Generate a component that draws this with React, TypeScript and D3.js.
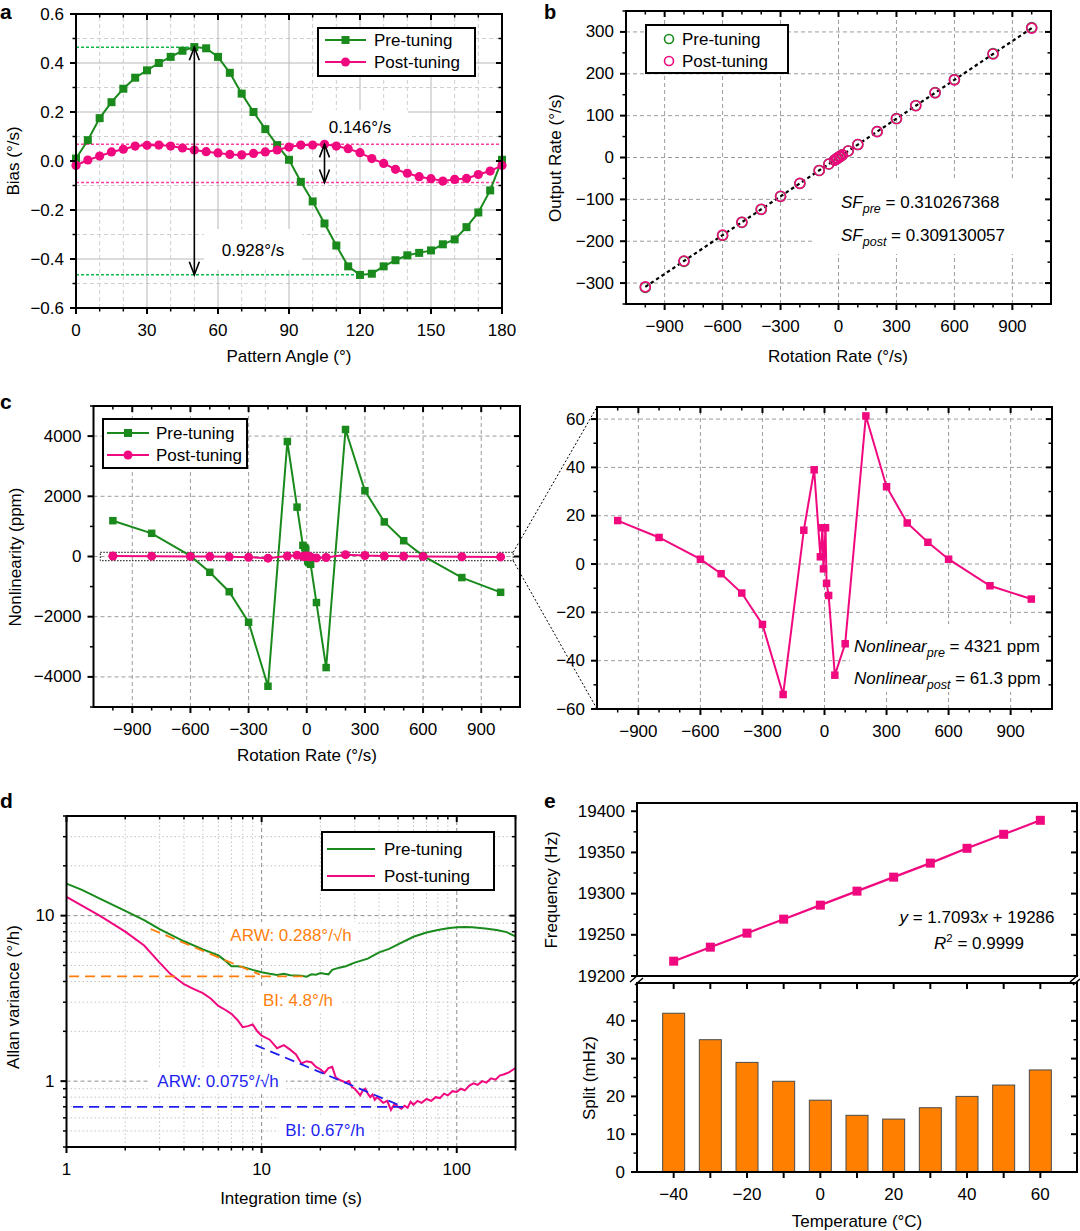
import * as React from 'react'
import * as d3 from 'd3'

const FONT = '"Liberation Sans", Arial, Helvetica, sans-serif'
const GREEN = '#1a8a1c'
const PINK = '#f0087f'
const ORANGE = '#ff7f0e'
const BLUE = '#1f1ff0'

// ---- a: bias vs pattern angle
const angles = [0, 5, 10, 15, 20, 25, 30, 35, 40, 45, 50, 55, 60, 65, 70, 75, 80, 85, 90, 95, 100, 105, 110, 115, 120, 125, 130, 135, 140, 145, 150, 155, 160, 165, 170, 175, 180]
const biasPre = [0.01, 0.085, 0.175, 0.24, 0.295, 0.34, 0.37, 0.4, 0.425, 0.45, 0.465, 0.46, 0.425, 0.36, 0.275, 0.2, 0.13, 0.065, 0.005, -0.085, -0.165, -0.255, -0.345, -0.43, -0.465, -0.46, -0.43, -0.405, -0.385, -0.375, -0.365, -0.34, -0.32, -0.27, -0.21, -0.12, 0.005]
const biasPost = [-0.018, 0.004, 0.02, 0.037, 0.048, 0.061, 0.064, 0.065, 0.061, 0.053, 0.045, 0.038, 0.033, 0.027, 0.025, 0.031, 0.037, 0.045, 0.057, 0.065, 0.065, 0.068, 0.061, 0.05, 0.034, 0.01, -0.01, -0.034, -0.05, -0.064, -0.072, -0.082, -0.075, -0.071, -0.055, -0.041, -0.018]

// ---- b, c: rotation rate tests
const rates = [-1000, -800, -600, -500, -400, -300, -200, -100, -50, -20, -10, -5, 5, 10, 20, 50, 100, 200, 300, 400, 500, 600, 800, 1000]
const outPre = [-310.3, -248.2, -186.2, -155.1, -124.1, -93.1, -62.1, -31.0, -15.5, -6.2, -3.1, -1.6, 1.6, 3.1, 6.2, 15.5, 31.0, 62.1, 93.1, 124.1, 155.1, 186.2, 248.2, 310.3]
const outPost = [-309.1, -247.3, -185.5, -154.6, -123.7, -92.7, -61.8, -30.9, -15.5, -6.2, -3.1, -1.5, 1.5, 3.1, 6.2, 15.5, 30.9, 61.8, 92.7, 123.7, 154.6, 185.5, 247.3, 309.1]
const nonlinPre = [1190, 770, 20, -525, -1170, -2185, -4310, 3820, 1640, 370, 300, 240, -150, -200, -260, -1530, -3690, 4220, 2185, 1150, 525, 20, -700, -1190]
const nonlinPost = [18, 11, 2, -4, -12, -25, -54, 14, 39, 3, 15, -2, 15, -8, -13, -46, -33, 61.3, 32, 17, 9, 2, -9, -14.5]

// ---- d: Allan deviation
const tauPre = [1, 1.2, 1.5, 2, 2.5, 3, 4, 5, 6, 6.5, 7, 7.5, 8, 9, 10, 11, 12, 13, 14, 15, 16, 17, 18, 19, 20, 21, 22, 23, 25, 27, 30, 35, 40, 45, 50, 60, 70, 80, 90, 100, 110, 120, 140, 160, 180, 200]
const allanPre = [15.6, 14.3, 12.6, 10.7, 9.4, 8.3, 7.0, 6.25, 5.75, 5.35, 4.95, 4.95, 4.9, 4.7, 4.55, 4.45, 4.38, 4.45, 4.36, 4.35, 4.33, 4.28, 4.42, 4.4, 4.5, 4.45, 4.42, 4.7, 4.85, 4.95, 5.2, 5.5, 6.0, 6.3, 6.7, 7.45, 7.9, 8.2, 8.4, 8.5, 8.55, 8.5, 8.35, 8.2, 7.95, 7.5]
const tauPost = [1, 1.2, 1.5, 2, 2.5, 3, 3.4, 4, 4.5, 5, 5.5, 6, 6.5, 7, 7.5, 8, 8.5, 9, 9.5, 10, 11, 12, 13, 14, 15, 16, 17, 18, 19, 20, 21, 22, 23, 24, 25, 26, 27, 28, 29, 30, 31, 32, 33, 34, 35, 36, 37, 38, 39, 40, 42, 44, 46, 48, 50, 52, 54, 56, 58, 60, 63, 66, 70, 74, 78, 82, 86, 90, 95, 100, 105, 110, 116, 122, 128, 135, 142, 150, 158, 166, 175, 185, 200]
const allanPost = [13.0, 11.5, 9.9, 8.0, 6.6, 5.2, 4.45, 3.85, 3.6, 3.4, 3.15, 2.85, 2.7, 2.55, 2.35, 2.12, 2.15, 2.2, 2.0, 1.88, 1.78, 1.58, 1.65, 1.55, 1.45, 1.28, 1.32, 1.3, 1.22, 1.18, 1.12, 1.2, 1.22, 1.05, 1.02, 1.0, 0.98, 1.0, 0.92, 0.9, 0.86, 0.82, 0.88, 0.9, 0.84, 0.8, 0.83, 0.77, 0.8, 0.78, 0.74, 0.76, 0.67, 0.73, 0.7, 0.68, 0.71, 0.69, 0.75, 0.72, 0.76, 0.74, 0.78, 0.76, 0.8, 0.79, 0.84, 0.82, 0.87, 0.86, 0.9, 0.88, 0.94, 0.97, 0.95, 1.0, 0.98, 1.04, 1.02, 1.08, 1.1, 1.13, 1.2]
const arwPreFit = [[2.7, 8.3], [9.8, 4.4]]
const biPreFit = [[1.03, 4.3], [17.5, 4.3]]
const arwPostFit = [[9.3, 1.65], [53, 0.7]]
const biPostFit = [[1.08, 0.7], [53, 0.7]]

// ---- e: temperature
const temps = [-40, -30, -20, -10, 0, 10, 20, 30, 40, 50, 60]
const freq = [19218, 19235, 19252, 19269, 19286, 19303, 19320, 19337, 19355, 19372, 19389]
const split = [42, 35, 29, 24, 19, 15, 14, 17, 20, 23, 27]

const range = (a: number, b: number, s: number) => d3.range(a, b + s / 2, s)
const minors = (all: number[], major: number[]) => all.filter(v => !major.some(m => Math.abs(m - v) < 1e-9))

interface FrameProps {
  x: any; y: any
  xMajor: number[]; xMinor: number[]; yMajor: number[]; yMinor: number[]
  xLabels?: number[]; yLabels?: number[]
  xFmt?: (v: number) => string; yFmt?: (v: number) => string
  top?: boolean
}

function Frame(p: FrameProps) {
  const [xa, xb] = p.x.range()
  const [yb, ya] = p.y.range()
  const L = 6, l = 3.5
  const out: React.ReactElement[] = []
  const add = (k: string, x1: number, y1: number, x2: number, y2: number, w: number) =>
    out.push(<line key={k} x1={x1} y1={y1} x2={x2} y2={y2} stroke="#000" strokeWidth={w} />)
  p.xMajor.forEach(v => {
    const px = p.x(v)
    add('xb' + v, px, yb, px, yb + L, 2)
    if (p.top !== false) add('xt' + v, px, ya, px, ya + L, 2)
  })
  p.xMinor.forEach(v => {
    const px = p.x(v)
    add('xbm' + v, px, yb, px, yb + l, 1.5)
    if (p.top !== false) add('xtm' + v, px, ya, px, ya + l, 1.5)
  })
  p.yMajor.forEach(v => {
    const py = p.y(v)
    add('yl' + v, xa - L, py, xa, py, 2)
    add('yr' + v, xb - L, py, xb, py, 2)
  })
  p.yMinor.forEach(v => {
    const py = p.y(v)
    add('ylm' + v, xa - l, py, xa, py, 1.5)
    add('yrm' + v, xb - l, py, xb, py, 1.5)
  })
  const xf = p.xFmt ?? d3.format('d')
  const yf = p.yFmt ?? d3.format('d')
  return (
    <g>
      {out}
      <rect x={xa} y={ya} width={xb - xa} height={yb - ya} fill="none" stroke="#000" strokeWidth={2} />
      {(p.xLabels ?? p.xMajor).map(v => (
        <text key={'lx' + v} x={p.x(v)} y={yb + 22} textAnchor="middle" dominantBaseline="central">{xf(v)}</text>
      ))}
      {(p.yLabels ?? p.yMajor).map(v => (
        <text key={'ly' + v} x={xa - 12} y={p.y(v)} textAnchor="end" dominantBaseline="central">{yf(v)}</text>
      ))}
    </g>
  )
}

function Grid({ x, y, xs, ys, stroke, dash }: { x: any; y: any; xs: number[]; ys: number[]; stroke: string; dash?: string }) {
  const [xa, xb] = x.range()
  const [yb, ya] = y.range()
  return (
    <g stroke={stroke} strokeWidth={1} strokeDasharray={dash}>
      {xs.map(v => <line key={'gx' + v} x1={x(v)} x2={x(v)} y1={yb} y2={ya} />)}
      {ys.map(v => <line key={'gy' + v} x1={xa} x2={xb} y1={y(v)} y2={y(v)} />)}
    </g>
  )
}

const Square = ({ cx, cy, s, fill }: { cx: number; cy: number; s: number; fill: string }) => (
  <rect x={cx - s / 2} y={cy - s / 2} width={s} height={s} fill={fill} />
)

type Mk = 'square' | 'circle' | 'hollow' | 'none'
function Legend({ box, rows, lx0, lx1, tx }: { box: number[]; rows: { label: string; color: string; mk: Mk; y: number }[]; lx0?: number; lx1?: number; tx: number }) {
  const [x0, y0, x1, y1] = box
  return (
    <g>
      <rect x={x0} y={y0} width={x1 - x0} height={y1 - y0} fill="#fff" stroke="#000" strokeWidth={2} />
      {rows.map(r => {
        const mx = lx0 !== undefined && lx1 !== undefined ? (lx0 + lx1) / 2 : 0
        return (
          <g key={r.label}>
            {lx0 !== undefined && lx1 !== undefined && <line x1={lx0} x2={lx1} y1={r.y} y2={r.y} stroke={r.color} strokeWidth={2} />}
            {r.mk === 'square' && <Square cx={mx} cy={r.y} s={8} fill={r.color} />}
            {r.mk === 'circle' && <circle cx={mx} cy={r.y} r={4.5} fill={r.color} />}
            {r.mk === 'hollow' && <circle cx={tx - 13} cy={r.y} r={4.5} fill="none" stroke={r.color} strokeWidth={1.6} />}
            <text x={tx} y={r.y} dominantBaseline="central">{r.label}</text>
          </g>
        )
      })}
    </g>
  )
}

function Arrow({ x, y1, y2 }: { x: number; y1: number; y2: number }) {
  return (
    <g stroke="#000" strokeWidth={1.6} fill="none">
      <line x1={x} x2={x} y1={y1} y2={y2} />
      <polyline points={`${x - 5},${y1 + 13} ${x},${y1} ${x + 5},${y1 + 13}`} />
      <polyline points={`${x - 5},${y2 - 13} ${x},${y2} ${x + 5},${y2 - 13}`} />
    </g>
  )
}

function PanelA() {
  const x = d3.scaleLinear().domain([0, 180]).range([76, 502])
  const y = d3.scaleLinear().domain([-0.6, 0.6]).range([308, 14])
  const line = d3.line<number>().x((_, i) => x(angles[i]))
  const top = 0.464, bot = -0.464, ptop = 0.068, pbot = -0.088
  return (
    <g>
      <Grid x={x} y={y} xs={minors(range(0, 180, 10), range(0, 180, 30))} ys={minors(range(-0.5, 0.5, 0.1), range(-0.6, 0.6, 0.2))} stroke="#cfcfcf" dash="4,3" />
      <Grid x={x} y={y} xs={range(30, 150, 30)} ys={range(-0.4, 0.4, 0.2)} stroke="#b8b8b8" />
      <rect x={312} y={110} width={96} height={34} fill="#fff" />
      <rect x={204} y={229} width={98} height={41} fill="#fff" />
      <g strokeWidth={1.5} strokeDasharray="3,2">
        <line x1={x(0)} x2={x(50)} y1={y(top)} y2={y(top)} stroke="#10b84c" />
        <line x1={x(0)} x2={x(120)} y1={y(bot)} y2={y(bot)} stroke="#10b84c" />
        <line x1={x(0)} x2={x(180)} y1={y(ptop)} y2={y(ptop)} stroke="#ff3fa0" />
        <line x1={x(0)} x2={x(180)} y1={y(pbot)} y2={y(pbot)} stroke="#ff3fa0" />
      </g>
      <path d={line.y(v => y(v))(biasPre) ?? ''} fill="none" stroke={GREEN} strokeWidth={2} />
      {biasPre.map((v, i) => <Square key={'s' + i} cx={x(angles[i])} cy={y(v)} s={8} fill={GREEN} />)}
      <path d={line.y(v => y(v))(biasPost) ?? ''} fill="none" stroke={PINK} strokeWidth={2} />
      {biasPost.map((v, i) => <circle key={'c' + i} cx={x(angles[i])} cy={y(v)} r={4.6} fill={PINK} />)}
      <Arrow x={x(50)} y1={y(top)} y2={y(bot)} />
      <Arrow x={x(105)} y1={y(ptop)} y2={y(pbot)} />
      <text x={360} y={127} textAnchor="middle" dominantBaseline="central">0.146°/s</text>
      <text x={253} y={250} textAnchor="middle" dominantBaseline="central">0.928°/s</text>
      <Frame x={x} y={y} xMajor={range(0, 180, 30)} xMinor={minors(range(0, 180, 10), range(0, 180, 30))}
        yMajor={range(-0.6, 0.6, 0.2)} yMinor={minors(range(-0.6, 0.6, 0.1), range(-0.6, 0.6, 0.2))}
        yFmt={d3.format('.1f')} />
      <Legend box={[318, 28, 475, 76]} lx0={325} lx1={366} tx={374} rows={[
        { label: 'Pre-tuning', color: GREEN, mk: 'square', y: 40 },
        { label: 'Post-tuning', color: PINK, mk: 'circle', y: 62 },
      ]} />
      <text x={13} y={161} transform="rotate(-90 13 161)" textAnchor="middle" dominantBaseline="central">Bias (°/s)</text>
      <text x={289} y={356} textAnchor="middle" dominantBaseline="central">Pattern Angle (°)</text>
      <text x={0} y={19} fontWeight="bold" fontSize={21}>a</text>
    </g>
  )
}

function PanelB() {
  const x = d3.scaleLinear().domain([-1100, 1100]).range([626, 1051])
  const y = d3.scaleLinear().domain([-350, 350]).range([304, 11])
  const xMaj = range(-900, 900, 300)
  const yMaj = range(-300, 300, 100)
  const fit = d3.line<number>().x((_, i) => x(rates[i])).y(v => y(v))
  return (
    <g>
      <Grid x={x} y={y} xs={xMaj} ys={yMaj} stroke="#9c9c9c" dash="4,3" />
      <rect x={815} y={181} width={233} height={73} fill="#fff" />
      <path d={fit(outPost) ?? ''} fill="none" stroke="#000" strokeWidth={2.2} strokeDasharray="3.5,3" />
      {outPre.map((v, i) => <circle key={'g' + i} cx={x(rates[i])} cy={y(v)} r={5} fill="none" stroke={GREEN} strokeWidth={1.6} />)}
      {outPost.map((v, i) => <circle key={'p' + i} cx={x(rates[i])} cy={y(v)} r={5} fill="none" stroke={PINK} strokeWidth={1.6} />)}
      <text x={841} y={208}>
        <tspan fontStyle="italic">SF</tspan><tspan fontStyle="italic" fontSize={12.5} dy={5}>pre</tspan><tspan dy={-5}> = 0.310267368</tspan>
      </text>
      <text x={841} y={241}>
        <tspan fontStyle="italic">SF</tspan><tspan fontStyle="italic" fontSize={12.5} dy={5}>post</tspan><tspan dy={-5}> = 0.309130057</tspan>
      </text>
      <Frame x={x} y={y} xMajor={xMaj} xMinor={minors(range(-1000, 1000, 100), xMaj)}
        yMajor={yMaj} yMinor={minors(range(-350, 350, 50), yMaj)} />
      <Legend box={[646, 25, 788, 73]} tx={682} rows={[
        { label: 'Pre-tuning', color: GREEN, mk: 'hollow', y: 39 },
        { label: 'Post-tuning', color: PINK, mk: 'hollow', y: 61 },
      ]} />
      <text x={555} y={158} transform="rotate(-90 555 158)" textAnchor="middle" dominantBaseline="central">Output Rate (°/s)</text>
      <text x={838} y={356} textAnchor="middle" dominantBaseline="central">Rotation Rate (°/s)</text>
      <text x={544} y={19} fontWeight="bold" fontSize={20}>b</text>
    </g>
  )
}

function PanelC() {
  const x = d3.scaleLinear().domain([-1100, 1100]).range([93.5, 520])
  const y = d3.scaleLinear().domain([-5000, 5000]).range([707, 406])
  const x2 = d3.scaleLinear().domain([-1100, 1100]).range([597, 1052])
  const y2 = d3.scaleLinear().domain([-60, 65]).range([709, 407])
  const xMaj = range(-900, 900, 300)
  const xMin = minors(range(-1000, 1000, 100), xMaj)
  const l1 = d3.line<number>().x((_, i) => x(rates[i])).y(v => y(v))
  const l2 = d3.line<number>().x((_, i) => x2(rates[i])).y(v => y2(v))
  const bx0 = x(-1065), bx1 = x(1065), by0 = y(140), by1 = y(-140)
  return (
    <g>
      <Grid x={x} y={y} xs={xMaj} ys={range(-4000, 4000, 2000)} stroke="#9c9c9c" dash="4,3" />
      <Grid x={x2} y={y2} xs={xMaj} ys={range(-40, 60, 20)} stroke="#9c9c9c" dash="4,3" />
      <rect x={850} y={624} width={198} height={68} fill="#fff" />
      <rect x={bx0} y={by0} width={bx1 - bx0} height={by1 - by0} fill="none" stroke="#000" strokeWidth={1} strokeDasharray="1.5,1.5" />
      <g stroke="#000" strokeWidth={1} strokeDasharray="2,2">
        <line x1={bx1} y1={by0} x2={597} y2={407} />
        <line x1={bx1} y1={by1} x2={597} y2={709} />
      </g>
      <path d={l1(nonlinPre) ?? ''} fill="none" stroke={GREEN} strokeWidth={2} />
      {nonlinPre.map((v, i) => <Square key={'s' + i} cx={x(rates[i])} cy={y(v)} s={7.5} fill={GREEN} />)}
      <path d={l1(nonlinPost) ?? ''} fill="none" stroke={PINK} strokeWidth={2} />
      {nonlinPost.map((v, i) => <circle key={'c' + i} cx={x(rates[i])} cy={y(v)} r={4.5} fill={PINK} />)}
      <path d={l2(nonlinPost) ?? ''} fill="none" stroke={PINK} strokeWidth={2} />
      {nonlinPost.map((v, i) => <Square key={'q' + i} cx={x2(rates[i])} cy={y2(v)} s={7.5} fill={PINK} />)}
      <text x={854} y={652}>
        <tspan fontStyle="italic">Nonlinear</tspan><tspan fontStyle="italic" fontSize={12.5} dy={5}>pre</tspan><tspan dy={-5}> = 4321 ppm</tspan>
      </text>
      <text x={854} y={684}>
        <tspan fontStyle="italic">Nonlinear</tspan><tspan fontStyle="italic" fontSize={12.5} dy={5}>post</tspan><tspan dy={-5}> = 61.3 ppm</tspan>
      </text>
      <Frame x={x} y={y} xMajor={xMaj} xMinor={xMin} yMajor={range(-4000, 4000, 2000)} yMinor={minors(range(-5000, 5000, 1000), range(-4000, 4000, 2000))} />
      <Frame x={x2} y={y2} xMajor={xMaj} xMinor={xMin} yMajor={range(-60, 60, 20)} yMinor={minors(range(-50, 60, 10), range(-60, 60, 20))} />
      <Legend box={[103, 419, 247, 468]} lx0={107} lx1={149} tx={156} rows={[
        { label: 'Pre-tuning', color: GREEN, mk: 'square', y: 433 },
        { label: 'Post-tuning', color: PINK, mk: 'circle', y: 455 },
      ]} />
      <text x={15} y={557} transform="rotate(-90 15 557)" textAnchor="middle" dominantBaseline="central">Nonlinearity (ppm)</text>
      <text x={307} y={755} textAnchor="middle" dominantBaseline="central">Rotation Rate (°/s)</text>
      <text x={0} y={409} fontWeight="bold" fontSize={21}>c</text>
    </g>
  )
}

function PanelD() {
  const x = d3.scaleLog().domain([1, 200]).range([66.5, 515.5])
  const y = d3.scaleLog().domain([0.4, 40]).range([1147, 816])
  const xMinor = [2, 3, 4, 5, 6, 7, 8, 9, 20, 30, 40, 50, 60, 70, 80, 90, 200]
  const yMinor = [0.4, 0.5, 0.6, 0.7, 0.8, 0.9, 2, 3, 4, 5, 6, 7, 8, 9, 20, 30, 40]
  const ln = d3.line<number[]>().x(d => x(d[0])).y(d => y(d[1]))
  const pre = tauPre.map((t, i) => [t, allanPre[i]])
  const post = tauPost.map((t, i) => [t, allanPost[i]])
  const ann = (cx: number, cy: number, w: number, txt: string, c: string) => (
    <g>
      <rect x={cx - w / 2} y={cy - 13} width={w} height={26} fill="#fff" />
      <text x={cx} y={cy} textAnchor="middle" dominantBaseline="central" fill={c}>{txt}</text>
    </g>
  )
  return (
    <g>
      <Grid x={x} y={y} xs={xMinor.filter(v => v < 200)} ys={yMinor.filter(v => v > 0.4 && v < 40)} stroke="#c4c4c4" dash="1.5,2.5" />
      <Grid x={x} y={y} xs={[10, 100]} ys={[1, 10]} stroke="#8c8c8c" dash="4,3" />
      {ann(291, 935, 134, 'ARW: 0.288°/√h', ORANGE)}
      {ann(298, 1000, 84, 'BI: 4.8°/h', ORANGE)}
      {ann(218, 1081, 136, 'ARW: 0.075°/√h', BLUE)}
      {ann(325, 1130, 92, 'BI: 0.67°/h', BLUE)}
      <path d={ln(pre) ?? ''} fill="none" stroke={GREEN} strokeWidth={2} />
      <path d={ln(post) ?? ''} fill="none" stroke={PINK} strokeWidth={2} />
      <g strokeWidth={1.8} strokeDasharray="10,6" fill="none">
        <path d={ln(arwPreFit) ?? ''} stroke={ORANGE} />
        <path d={ln(biPreFit) ?? ''} stroke={ORANGE} />
        <path d={ln(arwPostFit) ?? ''} stroke={BLUE} />
        <path d={ln(biPostFit) ?? ''} stroke={BLUE} />
      </g>
      <Frame x={x} y={y} xMajor={[1, 10, 100]} xMinor={xMinor} yMajor={[1, 10]} yMinor={yMinor} />
      <Legend box={[322, 832, 494, 890]} lx0={327} lx1={375} tx={384} rows={[
        { label: 'Pre-tuning', color: GREEN, mk: 'none', y: 849 },
        { label: 'Post-tuning', color: PINK, mk: 'none', y: 876 },
      ]} />
      <text x={13} y={997} transform="rotate(-90 13 997)" textAnchor="middle" dominantBaseline="central">Allan variance (°/h)</text>
      <text x={291} y={1198} textAnchor="middle" dominantBaseline="central">Integration time (s)</text>
      <text x={0} y={808} fontWeight="bold" fontSize={21}>d</text>
    </g>
  )
}

function PanelE() {
  const x = d3.scaleLinear().domain([-50, 70]).range([637, 1077])
  const yu = d3.scaleLinear().domain([19200, 19410]).range([976, 803])
  const yl = d3.scaleLinear().domain([0, 50]).range([1172, 983])
  const ln = d3.line<number>().x((_, i) => x(temps[i])).y(v => yu(v))
  const bw = x(6) - x(0)
  const xMaj = range(-40, 60, 10)
  return (
    <g>
      {split.map((v, i) => (
        <rect key={'b' + i} x={x(temps[i]) - bw / 2} y={yl(v)} width={bw} height={yl(0) - yl(v)} fill="#ff8000" stroke="#4a4a4a" strokeWidth={1} />
      ))}
      <path d={ln(freq) ?? ''} fill="none" stroke={PINK} strokeWidth={2.2} />
      {freq.map((v, i) => <Square key={'f' + i} cx={x(temps[i])} cy={yu(v)} s={9} fill={PINK} />)}
      <text x={977} y={923} textAnchor="middle">
        <tspan fontStyle="italic">y</tspan> = 1.7093<tspan fontStyle="italic">x</tspan> + 19286
      </text>
      <text x={979} y={949} textAnchor="middle">
        <tspan fontStyle="italic">R</tspan><tspan fontSize={11.5} dy={-7}>2</tspan><tspan dy={7}> = 0.9999</tspan>
      </text>
      <Frame x={x} y={yu} xMajor={[]} xMinor={[]} xLabels={[]} yMajor={range(19200, 19400, 50)} yMinor={range(19225, 19400, 50)} />
      <Frame x={x} y={yl} xMajor={xMaj} xMinor={[]} xLabels={range(-40, 60, 20)} yMajor={range(0, 40, 10)} yMinor={range(5, 45, 10)} />
      <g stroke="#000" strokeWidth={1.5}>
        <rect x={630} y={977} width={14} height={5} fill="#fff" stroke="none" />
        <line x1={630} y1={982} x2={638} y2={975} />
        <line x1={635} y1={985} x2={643} y2={978} />
        <rect x={1070} y={977} width={10} height={5} fill="#fff" stroke="none" />
        <line x1={1070} y1={982} x2={1078} y2={975} />
        <line x1={1073} y1={985} x2={1080} y2={979} />
      </g>
      <text x={551} y={890} transform="rotate(-90 551 890)" textAnchor="middle" dominantBaseline="central">Frequency (Hz)</text>
      <text x={589} y={1078} transform="rotate(-90 589 1078)" textAnchor="middle" dominantBaseline="central">Split (mHz)</text>
      <text x={857} y={1221} textAnchor="middle" dominantBaseline="central">Temperature (°C)</text>
      <text x={544} y={808} fontWeight="bold" fontSize={21}>e</text>
    </g>
  )
}

export default function App() {
  return (
    <svg width={1080} height={1231} viewBox="0 0 1080 1231"
      style={{ position: 'absolute', left: 0, top: 0, background: '#fff' }}
      fontFamily={FONT} fontSize={17} fill="#000">
      <rect width={1080} height={1231} fill="#fff" />
      <PanelA />
      <PanelB />
      <PanelC />
      <PanelD />
      <PanelE />
    </svg>
  )
}
